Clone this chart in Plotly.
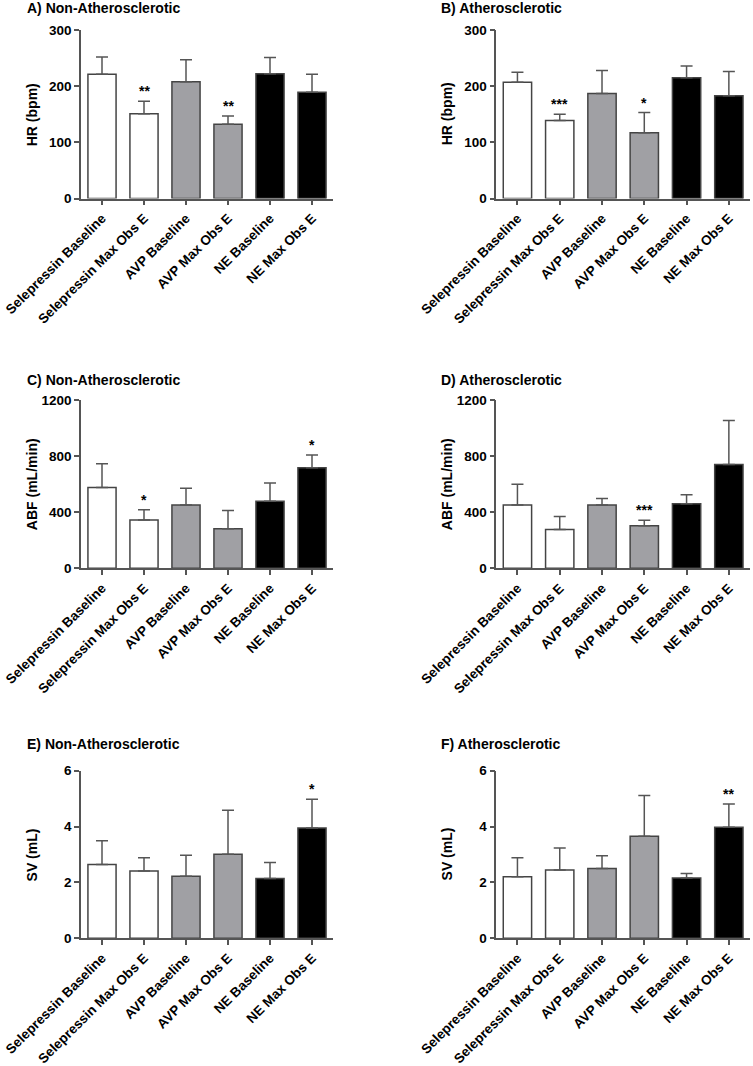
import plotly.graph_objects as go

categories = ["Selepressin Baseline", "Selepressin Max Obs E", "AVP Baseline",
              "AVP Max Obs E", "NE Baseline", "NE Max Obs E"]
bar_colors = ["#FFFFFF", "#FFFFFF", "#A0A0A4", "#A0A0A4", "#000000", "#000000"]

# Panel A: HR, non-atherosclerotic
hr_non_mean = [221, 151, 208, 132, 222, 189]
hr_non_err = [31, 22, 39, 15, 29, 32]
hr_non_sig = ["", "**", "", "**", "", ""]
# Panel B: HR, atherosclerotic
hr_ath_mean = [207, 139, 187, 117, 215, 183]
hr_ath_err = [18, 11, 41, 36, 21, 43]
hr_ath_sig = ["", "***", "", "*", "", ""]
# Panel C: ABF, non-atherosclerotic
abf_non_mean = [577, 344, 451, 282, 478, 717]
abf_non_err = [169, 74, 119, 131, 130, 91]
abf_non_sig = ["", "*", "", "", "", "*"]
# Panel D: ABF, atherosclerotic
abf_ath_mean = [452, 276, 452, 304, 461, 740]
abf_ath_err = [148, 93, 45, 39, 63, 314]
abf_ath_sig = ["", "", "", "***", "", ""]
# Panel E: SV, non-atherosclerotic
sv_non_mean = [2.64, 2.41, 2.22, 3.01, 2.14, 3.95]
sv_non_err = [0.85, 0.47, 0.75, 1.57, 0.57, 1.03]
sv_non_sig = ["", "", "", "", "", "*"]
# Panel F: SV, atherosclerotic
sv_ath_mean = [2.20, 2.44, 2.50, 3.65, 2.16, 3.97]
sv_ath_err = [0.68, 0.79, 0.45, 1.46, 0.16, 0.84]
sv_ath_sig = ["", "", "", "", "", "**"]

W, H = 753, 1066
FONT = "Liberation Sans, Arial, sans-serif"
AX = "#555555"

panels = [
    dict(title="A) Non-Atherosclerotic", ytitle="HR (bpm)", mean=hr_non_mean, err=hr_non_err,
         sig=hr_non_sig, yr=[0, 300], dt=100, col=0, row=0),
    dict(title="B) Atherosclerotic", ytitle="HR (bpm)", mean=hr_ath_mean, err=hr_ath_err,
         sig=hr_ath_sig, yr=[0, 300], dt=100, col=1, row=0),
    dict(title="C) Non-Atherosclerotic", ytitle="ABF (mL/min)", mean=abf_non_mean, err=abf_non_err,
         sig=abf_non_sig, yr=[0, 1200], dt=400, col=0, row=1),
    dict(title="D) Atherosclerotic", ytitle="ABF (mL/min)", mean=abf_ath_mean, err=abf_ath_err,
         sig=abf_ath_sig, yr=[0, 1200], dt=400, col=1, row=1),
    dict(title="E) Non-Atherosclerotic", ytitle="SV (mL)", mean=sv_non_mean, err=sv_non_err,
         sig=sv_non_sig, yr=[0, 6], dt=2, col=0, row=2),
    dict(title="F) Atherosclerotic", ytitle="SV (mL)", mean=sv_ath_mean, err=sv_ath_err,
         sig=sv_ath_sig, yr=[0, 6], dt=2, col=1, row=2),
]

# pixel layout
col_x = [(81, 333), (496.3, 750)]
row_y = [(30, 198.5), (400, 568.3), (770.7, 938.2)]
title_x = [25, 439]
title_y = [8, 380, 744]
ytitle_x = [32, 447]

fig = go.Figure()
layout = dict(width=W, height=H, margin=dict(l=0, r=0, t=0, b=0, autoexpand=False),
              paper_bgcolor="white", plot_bgcolor="white", showlegend=False,
              font=dict(family=FONT, color="black"))
annotations = []

for i, p in enumerate(panels):
    n = i + 1
    xa = "x" if n == 1 else f"x{n}"
    ya = "y" if n == 1 else f"y{n}"
    x0, x1 = col_x[p["col"]]
    y0, y1 = row_y[p["row"]]
    fig.add_trace(go.Bar(
        x=list(range(len(categories))), y=p["mean"], xaxis=xa, yaxis=ya,
        marker=dict(color=bar_colors, line=dict(color="#444444", width=1.5)),
        width=0.67,
        error_y=dict(type="data", symmetric=False, array=p["err"],
                     arrayminus=[0] * len(categories), color=AX, thickness=1.5, width=6),
        hoverinfo="skip",
    ))
    layout["xaxis" if n == 1 else f"xaxis{n}"] = dict(
        domain=[x0 / W, x1 / W], anchor=ya, range=[-0.5, 5.5], automargin=False,
        tickmode="array", tickvals=list(range(len(categories))), ticktext=categories,
        tickangle=-45, ticks="outside", ticklen=5, tickwidth=1.5, tickcolor=AX,
        ticklabeloverflow="allow",
        showline=True, linecolor=AX, linewidth=1.5, showgrid=False, zeroline=False,
        tickfont=dict(size=13.5, family=FONT, weight="bold", color="black"),
        fixedrange=True,
    )
    layout["yaxis" if n == 1 else f"yaxis{n}"] = dict(
        domain=[1 - y1 / H, 1 - y0 / H], anchor=xa, range=p["yr"], automargin=False,
        tick0=0, dtick=p["dt"], ticks="outside", ticklen=5, tickwidth=1.5, tickcolor=AX,
        ticklabeloverflow="allow",
        showline=True, linecolor=AX, linewidth=1.5, showgrid=False, zeroline=False,
        tickfont=dict(size=13.5, family=FONT, weight="bold", color="black"),
        fixedrange=True,
    )
    annotations.append(dict(
        text=p["title"], xref="paper", yref="paper", x=title_x[p["col"]] / W,
        y=1 - title_y[p["row"]] / H, xanchor="left", yanchor="middle", showarrow=False,
        font=dict(size=14, family=FONT, weight="bold", color="black")))
    annotations.append(dict(
        text=p["ytitle"], xref="paper", yref="paper", x=ytitle_x[p["col"]] / W,
        y=1 - (y0 + y1) / 2 / H, xanchor="center", yanchor="middle", textangle=-90,
        showarrow=False, font=dict(size=14, family=FONT, weight="bold", color="black")))
    for k, s in enumerate(p["sig"]):
        if s:
            annotations.append(dict(
                text=s, xref=xa, yref=ya, x=k, y=p["mean"][k] + p["err"][k],
                xanchor="center", yanchor="bottom", yshift=0, showarrow=False,
                font=dict(size=14, family=FONT, weight="bold", color="black")))

layout["annotations"] = annotations
fig.update_layout(**layout)
fig.write_html("out.html", config={"displayModeBar": False},
               post_script="document.body.style.margin='0';document.body.style.overflow='hidden';")
